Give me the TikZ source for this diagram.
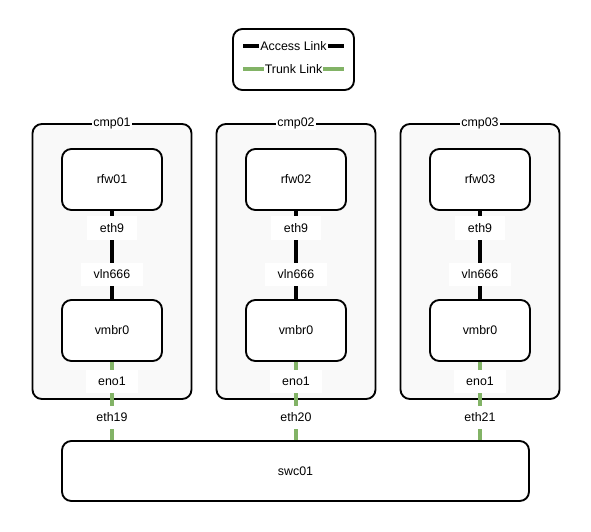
\documentclass[tikz,border=0pt]{standalone}
\usepackage{fontspec}
\setmainfont{Liberation Sans}
\usetikzlibrary{positioning}
\definecolor{trunkgreen}{HTML}{82B366}
\definecolor{hostgray}{HTML}{F9F9F9}
\tikzset{
  box/.style={draw, line width=1.4pt, rounded corners=7pt, fill=white},
  host/.style={box, fill=hostgray, minimum width=119.25pt, minimum height=206.25pt},
  dev/.style={box, minimum width=75pt, minimum height=45.75pt},
  lbl/.style={fill=white, text=black, inner xsep=9.5pt, inner ysep=5.5pt},
  access/.style={line width=3pt, black},
  trunk/.style={line width=3pt, trunkgreen},
}
\begin{document}
\begin{tikzpicture}[x=0.75pt, y=-0.75pt, font=\fontsize{9.3}{11}\selectfont]
  \useasboundingbox (0,0) rectangle (591,531);
  % legend
  \node[box, minimum width=90.75pt, minimum height=45.75pt] (legend) at (293.5,59.5) {};
  \coordinate (accA) at (243,46);
  \coordinate (accB) at (344,46);
  \coordinate (trkA) at (243,69);
  \coordinate (trkB) at (344,69);
  \draw[access] (accA) -- (accB) node[midway, fill=white, text=black, inner sep=0.8pt] {Access Link};
  \draw[trunk] (trkA) -- (trkB) node[midway, fill=white, text=black, inner sep=0.8pt] {Trunk Link};
  % switch
  \node[box, minimum width=350.25pt, minimum height=45pt] (swc01) at (295.5,471) {swc01};
  % hosts
  \foreach \i/\x/\p in {1/112/19, 2/296/20, 3/480/21} {
    \node[host] (cmp\i) at (\x,261.5) {};
    \node[fill=white, inner sep=1pt] (cmplbl\i) at (cmp\i.north) {cmp0\i};
    \node[dev] (rfw\i) at (\x,179.5) {rfw0\i};
    \node[dev] (vmbr\i) at (\x,330.5) {vmbr0};
    \coordinate (sw\i) at (vmbr\i.south |- swc01.north);
    \draw[access] (rfw\i.south) -- (vmbr\i.north)
      node[lbl, pos=0.19] {eth9}
      node[lbl, pos=0.72] {vln666};
    \draw[trunk] (vmbr\i.south) -- (sw\i)
      node[lbl, pos=0.25] {eno1}
      node[lbl, pos=0.71] {eth\p};
  }
\end{tikzpicture}
\end{document}
